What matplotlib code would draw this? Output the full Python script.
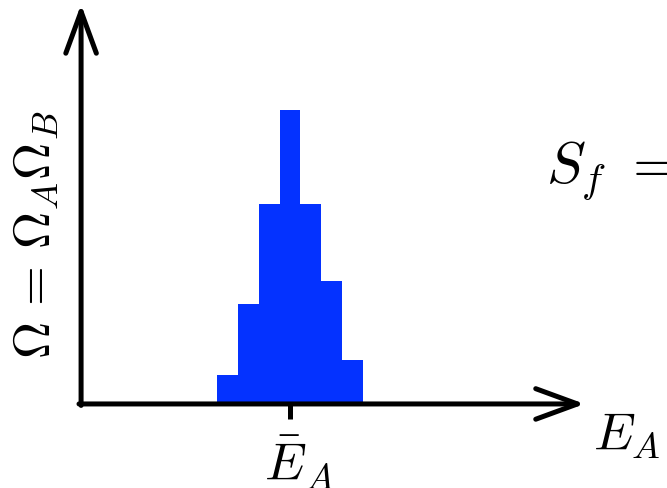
import matplotlib
matplotlib.use("Agg")
import matplotlib.pyplot as plt

plt.rcParams['mathtext.fontset'] = 'cm'

# Histogram of the number of states around the mean energy
bins = [-3, -2, -1, 0, 1, 2, 3]
counts = [0.10, 0.34, 0.68, 1.0, 0.68, 0.42, 0.15]

fig = plt.figure(figsize=(6.67, 4.89), dpi=100)
ax = fig.add_axes([0, 0, 1, 1])
ax.set_xlim(-13.88, 18.04)
ax.set_ylim(-0.286, 1.378)
ax.axis('off')

ax.bar(bins, counts, width=1.0, color='#0432FF', edgecolor='none', zorder=1)

# Axes drawn as arrows
arrow = dict(arrowstyle='->,head_length=1.5,head_width=0.55', lw=3.6, color='black',
             shrinkA=0, shrinkB=0, mutation_scale=20, capstyle='round', joinstyle='round')
ax.annotate('', xy=(14.1, 0), xytext=(-10.1, 0), arrowprops=arrow, zorder=3)
ax.annotate('', xy=(-10, 1.36), xytext=(-10, -0.005), arrowprops=arrow, zorder=3)

# Tick at the mean energy
ax.plot([0, 0], [0, -0.05], color='black', lw=3.6, solid_capstyle='butt', zorder=3)

ax.text(0.45, -0.098, r'$\bar{E}_A$', fontsize=38, ha='center', va='top')
ax.text(14.5, -0.155, r'$E_A$', fontsize=38, ha='left', va='baseline')
ax.text(-12.15, 0.58, r'$\Omega\,=\,\Omega_A\Omega_B$', fontsize=37, rotation=90,
        ha='center', va='center')
ax.text(12.25, 0.755, r'$S_f\ =$', fontsize=42, ha='left', va='baseline')

fig.savefig('out.png', dpi=100)
